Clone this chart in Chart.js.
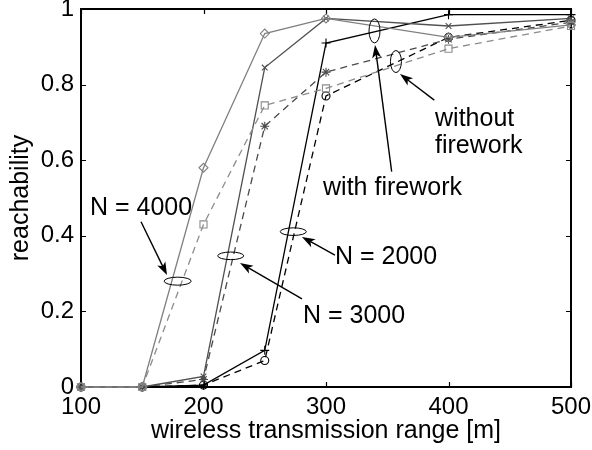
<!DOCTYPE html>
<html>
<head>
<meta charset="utf-8">
<script src="https://cdn.jsdelivr.net/npm/chart.js@4.4.0/dist/chart.umd.min.js"></script>
<style>
html,body{margin:0;padding:0;background:#fff;}
#wrap{width:592px;height:450px;}
</style>
</head>
<body>
<div id="wrap"><canvas id="c" width="592" height="450"></canvas></div>
<script>
// ---- data ----
const ranges = [100, 150, 200, 250, 300, 400, 500];
const n4000With    = [0, 0, 0.58, 0.935, 0.975, 0.925, 0.958];
const n4000Without = [0, 0, 0.43, 0.745, 0.79, 0.895, 0.955];
const n3000With    = [0, 0, 0.028, 0.845, 0.975, 0.955, 0.975];
const n3000Without = [0, 0, 0.02, 0.69, 0.833, 0.92, 0.965];
const n2000With    = [0, 0, 0.005, 0.097, 0.91, 0.985, 0.985];
const n2000Without = [0, 0, 0.005, 0.07, 0.77, 0.925, 0.97];
const xTicks = [100, 200, 300, 400, 500];
const yTicks = [0, 0.2, 0.4, 0.6, 0.8, 1];
const yTickLabels = ['0', '0.2', '0.4', '0.6', '0.8', '1'];

const FONT = "'Liberation Sans', Arial, sans-serif";
const pts = arr => ranges.map((x, i) => ({x: x, y: arr[i]}));

function ds(label, arr, color, style, dashed, radius) {
  return {
    label: label, data: pts(arr), borderColor: color, backgroundColor: 'rgba(0,0,0,0)',
    borderWidth: 1.3, borderDash: dashed ? [7, 5] : [], pointStyle: style,
    pointRadius: radius, pointBorderColor: color, pointBackgroundColor: 'rgba(0,0,0,0)',
    pointBorderWidth: 1.1, tension: 0, clip: false
  };
}

// annotations (data coordinates)
const ellipses = [
  {x: 178.9, y: 0.280, rx: 13.5, ry: 4},
  {x: 222.2, y: 0.347, rx: 13, ry: 3.8},
  {x: 273.3, y: 0.411, rx: 13, ry: 3.8},
  {x: 339.6, y: 0.942, rx: 5.5, ry: 12},
  {x: 357.1, y: 0.861, rx: 5.5, ry: 11}
];
const arrows = [
  {x1: 149.0, y1: 0.437, x2: 170.2, y2: 0.296},
  {x1: 280.4, y1: 0.233, x2: 229.8, y2: 0.328},
  {x1: 307.3, y1: 0.349, x2: 280.4, y2: 0.397},
  {x1: 353.6, y1: 0.570, x2: 340.0, y2: 0.905},
  {x1: 388.4, y1: 0.759, x2: 360.4, y2: 0.828}
];
const labels = [
  {text: 'N = 4000', x: 149.0, y: 0.455, align: 'center'},
  {text: 'N = 3000', x: 322.9, y: 0.169, align: 'center'},
  {text: 'N = 2000', x: 349.0, y: 0.325, align: 'center'},
  {text: 'with firework', x: 354.3, y: 0.508, align: 'center'},
  {text: 'without', x: 389.0, y: 0.690, align: 'left'},
  {text: 'firework', x: 389.0, y: 0.619, align: 'left'}
];

const framePlugin = {
  id: 'frame',
  beforeDatasetsDraw(chart) {
    const {ctx, chartArea: a, scales: {x, y}} = chart;
    ctx.save();
    ctx.strokeStyle = '#000';
    ctx.lineWidth = 1.2;
    ctx.beginPath();
    xTicks.forEach(v => {
      const px = Math.round(x.getPixelForValue(v)) + 0.5;
      ctx.moveTo(px, a.bottom); ctx.lineTo(px, a.bottom - 5);
      ctx.moveTo(px, a.top); ctx.lineTo(px, a.top + 5);
    });
    yTicks.forEach(v => {
      const py = Math.round(y.getPixelForValue(v)) + 0.5;
      ctx.moveTo(a.left, py); ctx.lineTo(a.left + 5, py);
      ctx.moveTo(a.right, py); ctx.lineTo(a.right - 5, py);
    });
    ctx.stroke();
    ctx.lineWidth = 2;
    ctx.strokeRect(a.left, a.top, a.right - a.left, a.bottom - a.top);
    ctx.restore();
  },
  afterDatasetsDraw(chart) {
    const {ctx, scales: {x, y}} = chart;
    ctx.save();
    ctx.strokeStyle = '#000';
    ctx.fillStyle = '#000';
    ctx.lineWidth = 1;
    ellipses.forEach(e => {
      ctx.beginPath();
      ctx.ellipse(x.getPixelForValue(e.x), y.getPixelForValue(e.y), e.rx, e.ry, 0, 0, Math.PI * 2);
      ctx.stroke();
    });
    arrows.forEach(r => {
      const x1 = x.getPixelForValue(r.x1), y1 = y.getPixelForValue(r.y1);
      const x2 = x.getPixelForValue(r.x2), y2 = y.getPixelForValue(r.y2);
      const ang = Math.atan2(y2 - y1, x2 - x1);
      const L = 13, W = 4.5;
      ctx.lineWidth = 1.4;
      ctx.beginPath();
      ctx.moveTo(x1, y1);
      ctx.lineTo(x2 - Math.cos(ang) * L * 0.6, y2 - Math.sin(ang) * L * 0.6);
      ctx.stroke();
      const bx = x2 - Math.cos(ang) * L, by = y2 - Math.sin(ang) * L;
      const nx = -Math.sin(ang) * W, ny = Math.cos(ang) * W;
      const mx = x2 - Math.cos(ang) * L * 0.75, my = y2 - Math.sin(ang) * L * 0.75;
      ctx.beginPath();
      ctx.moveTo(x2, y2);
      ctx.lineTo(bx + nx, by + ny);
      ctx.lineTo(mx, my);
      ctx.lineTo(bx - nx, by - ny);
      ctx.closePath();
      ctx.fill();
    });
    ctx.font = '25px ' + FONT;
    ctx.textBaseline = 'alphabetic';
    labels.forEach(l => {
      ctx.textAlign = l.align;
      ctx.fillText(l.text, x.getPixelForValue(l.x), y.getPixelForValue(l.y));
    });
    ctx.restore();
  }
};

new Chart(document.getElementById('c'), {
  type: 'line',
  data: {
    datasets: [
      ds('N = 4000, with firework', n4000With, '#808080', 'rectRot', false, 4.5),
      ds('N = 4000, without firework', n4000Without, '#8c8c8c', 'rect', true, 5),
      ds('N = 3000, with firework', n3000With, '#505050', 'crossRot', false, 4),
      ds('N = 3000, without firework', n3000Without, '#4a4a4a', 'star', true, 4.5),
      ds('N = 2000, with firework', n2000With, '#000000', 'cross', false, 4.5),
      ds('N = 2000, without firework', n2000Without, '#000000', 'circle', true, 4)
    ]
  },
  options: {
    responsive: false,
    animation: false,
    events: [],
    layout: {padding: {top: 9, right: 21, left: 0, bottom: 0}},
    plugins: {legend: {display: false}, tooltip: {enabled: false}},
    scales: {
      x: {
        type: 'linear', min: 100, max: 500,
        afterBuildTicks: s => { s.ticks = xTicks.map(v => ({value: v})); },
        afterFit: s => { s.height = 63; s.paddingLeft = 0; s.paddingRight = 0; },
        grid: {display: false, drawTicks: false},
        border: {display: false},
        ticks: {color: '#000', font: {family: FONT, size: 24}, padding: 6, maxRotation: 0, autoSkip: false,
                callback: v => String(v)},
        title: {display: true, text: 'wireless transmission range [m]', color: '#000',
                font: {family: FONT, size: 25}, padding: {top: 0, bottom: 4}}
      },
      y: {
        type: 'linear', min: 0, max: 1,
        afterBuildTicks: s => { s.ticks = yTicks.map(v => ({value: v})); },
        afterFit: s => { s.width = 81; s.paddingTop = 0; s.paddingBottom = 0; },
        grid: {display: false, drawTicks: false},
        border: {display: false},
        ticks: {color: '#000', font: {family: FONT, size: 24}, padding: 7, autoSkip: false,
                callback: (v, i) => yTickLabels[i]},
        title: {display: true, text: 'reachability', color: '#000',
                font: {family: FONT, size: 25}, padding: {top: 6, bottom: 0}}
      }
    }
  },
  plugins: [framePlugin]
});
</script>
</body>
</html>
